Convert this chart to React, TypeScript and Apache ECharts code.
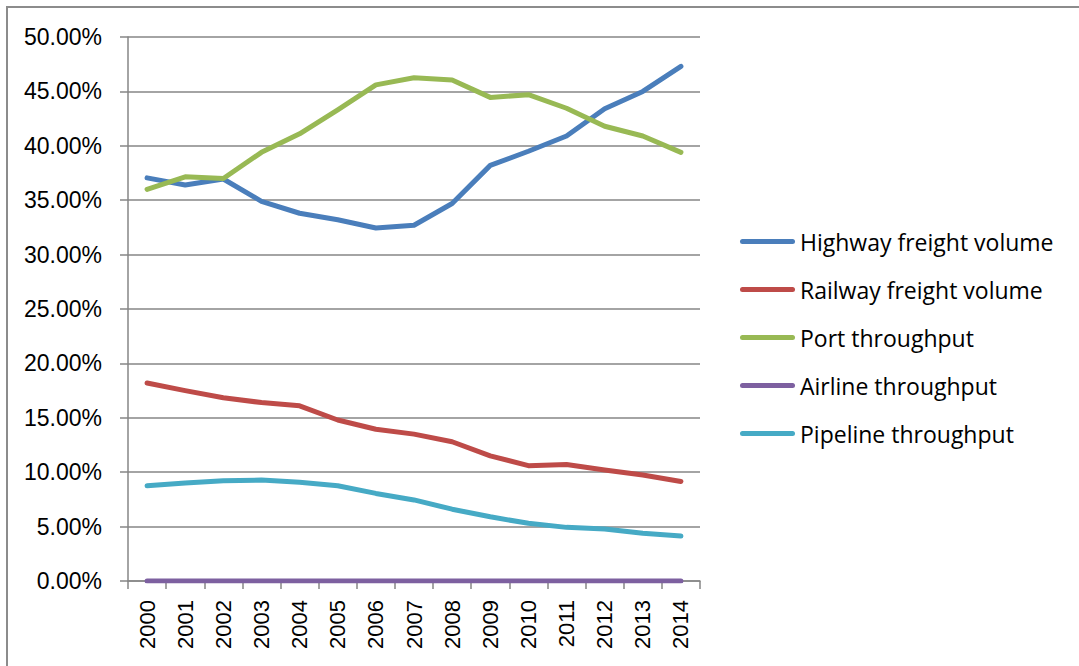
import React, { useEffect, useRef } from "react";
import * as echarts from "echarts";

// Share of total freight by transport mode, 2000–2014 (percent)
const years = ["2000", "2001", "2002", "2003", "2004", "2005", "2006", "2007", "2008", "2009", "2010", "2011", "2012", "2013", "2014"];
const highway = [37.05, 36.4, 36.95, 34.9, 33.8, 33.2, 32.45, 32.7, 34.7, 38.2, 39.5, 40.9, 43.4, 45.0, 47.3];
const railway = [18.2, 17.5, 16.85, 16.4, 16.1, 14.8, 13.95, 13.5, 12.8, 11.5, 10.6, 10.7, 10.2, 9.75, 9.15];
const port = [36.0, 37.15, 37.0, 39.4, 41.1, 43.3, 45.6, 46.25, 46.05, 44.45, 44.7, 43.45, 41.8, 40.9, 39.4];
const airline = [0, 0, 0, 0, 0, 0, 0, 0, 0, 0, 0, 0, 0, 0, 0];
const pipeline = [8.75, 9.0, 9.22, 9.28, 9.07, 8.76, 8.05, 7.45, 6.6, 5.9, 5.3, 4.93, 4.78, 4.38, 4.13];

const seriesDefs = [
  { name: "Highway freight volume", data: highway, color: "#4A7EBB" },
  { name: "Railway freight volume", data: railway, color: "#BE4B48" },
  { name: "Port throughput", data: port, color: "#98B954" },
  { name: "Airline throughput", data: airline, color: "#7D60A0" },
  { name: "Pipeline throughput", data: pipeline, color: "#46AAC5" },
];

const GRAY = "#868686";
// Legend key: a short bar with rounded ends
const KEY_ICON = "path://M2.5,0 H52.5 A2.5,2.5 0 0 1 52.5,5 H2.5 A2.5,2.5 0 0 1 2.5,0 Z";

export default function App() {
  const ref = useRef<HTMLDivElement>(null);

  useEffect(() => {
    if (!ref.current) return;
    const chart = echarts.init(ref.current, undefined, { renderer: "svg" });
    chart.setOption({
      animation: false,
      backgroundColor: "#ffffff",
      grid: { left: 128, right: 379, top: 37, bottom: 85, containLabel: false },
      graphic: [
        {
          type: "polyline",
          shape: { points: [[7, 700], [7, 7], [1100, 7]] },
          style: { stroke: "#8c8c8c", lineWidth: 2, fill: "none" },
        },
      ],
      legend: {
        orient: "vertical",
        left: 740,
        top: 230,
        padding: 0,
        icon: KEY_ICON,
        itemWidth: 55,
        itemHeight: 5,
        itemGap: 25,
        data: seriesDefs.map((s) => s.name),
        textStyle: {
          fontFamily: "Open Sans",
          fontSize: 23,
          color: "#000",
          lineHeight: 20,
        },
      },
      xAxis: {
        type: "category",
        data: years,
        boundaryGap: true,
        axisLine: { lineStyle: { color: GRAY, width: 1.5 } },
        axisTick: { show: true, length: 8, lineStyle: { color: GRAY, width: 1.5 } },
        axisLabel: {
          rotate: 90,
          margin: 19,
          fontFamily: "Liberation Sans",
          fontSize: 22,
          color: "#000",
        },
        splitLine: { show: false },
      },
      yAxis: {
        type: "value",
        min: 0,
        max: 50,
        interval: 5,
        axisLine: { show: true, lineStyle: { color: GRAY, width: 1.5 } },
        axisTick: { show: true, length: 8, lineStyle: { color: GRAY, width: 1.5 } },
        axisLabel: {
          margin: 26,
          fontFamily: "Liberation Sans",
          fontSize: 23,
          color: "#000",
          formatter: (v: number) => `${v.toFixed(2)}%`,
        },
        splitLine: { show: true, lineStyle: { color: GRAY, width: 1.5 } },
      },
      series: seriesDefs.map((s) => ({
        name: s.name,
        type: "line",
        data: s.data,
        symbol: "none",
        showSymbol: false,
        color: s.color,
        lineStyle: { color: s.color, width: 5, cap: "round", join: "round" },
      })),
    });
    return () => chart.dispose();
  }, []);

  return (
    <div
      ref={ref}
      style={{ position: "fixed", left: 0, top: 0, width: 1079, height: 666 }}
    />
  );
}
